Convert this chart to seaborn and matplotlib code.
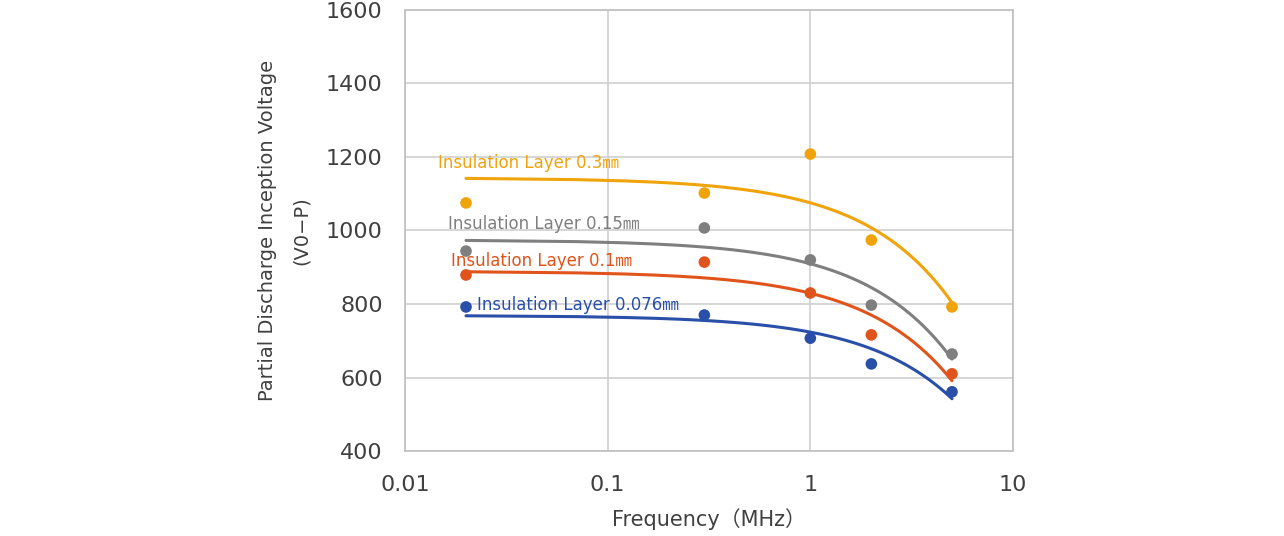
import numpy as np
import pandas as pd
import matplotlib
matplotlib.use("Agg")
import matplotlib.pyplot as plt
import seaborn as sns

freq = [0.02, 0.3, 1, 2, 5]
v_030 = [1075, 1102, 1208, 974, 792]
v_015 = [944, 1007, 920, 797, 664]
v_010 = [879, 914, 830, 716, 610]
v_0076 = [792, 770, 707, 637, 561]

labels = ["Insulation Layer 0.3㎜", "Insulation Layer 0.15㎜",
          "Insulation Layer 0.1㎜", "Insulation Layer 0.076㎜"]
colors = ["#F0A30A", "#7F7F7F", "#E0541C", "#2A4FA8"]
label_pos = [(0.0145, 1184), (0.0163, 1018), (0.0168, 917), (0.0227, 797)]

sns.set_theme(style="white")
plt.rcParams['font.family'] = ['DejaVu Sans', 'Noto Sans CJK JP']

fig = plt.figure(figsize=(12.84, 5.36), dpi=100)
ax = fig.add_axes([405/1284, 1 - 451/536, (1013-405)/1284, (451-10)/536])
ax.set_xscale("log")

series = [v_030, v_015, v_010, v_0076]
for vals, lab, col, pos in zip(series, labels, colors, label_pos):
    df = pd.DataFrame({"f": freq, "v": vals})
    sns.regplot(data=df, x="f", y="v", ax=ax, ci=None, scatter=False,
                truncate=True, color=col, line_kws={"linewidth": 2.2})
    sns.scatterplot(data=df, x="f", y="v", ax=ax, color=col, s=70,
                    edgecolor="none", zorder=3)
    ax.text(pos[0], pos[1], lab, color=col, fontsize=12, va="center", ha="left")

ax.set_xlim(0.01, 10)
ax.set_ylim(400, 1600)
ax.set_yticks(range(400, 1601, 200))
ax.set_xticks([0.01, 0.1, 1, 10])
ax.set_xticklabels(["0.01", "0.1", "1", "10"])
ax.minorticks_off()
ax.grid(True, which="major", color="#D0D0D0", linewidth=1.2)
ax.set_axisbelow(True)
for s in ax.spines.values():
    s.set_color("#BFBFBF")
    s.set_linewidth(1.2)
ax.tick_params(axis="both", labelsize=16, colors="#404040", length=0)
ax.tick_params(axis="y", pad=16)
ax.tick_params(axis="x", pad=17)
ax.set_xlabel("Frequency（MHz）", fontsize=15, color="#404040", labelpad=10)
ax.set_ylabel("Partial Discharge Inception Voltage\n(V0−P)", fontsize=14,
              color="#404040", labelpad=11, linespacing=2.0)

fig.savefig("out.png", dpi=100)
